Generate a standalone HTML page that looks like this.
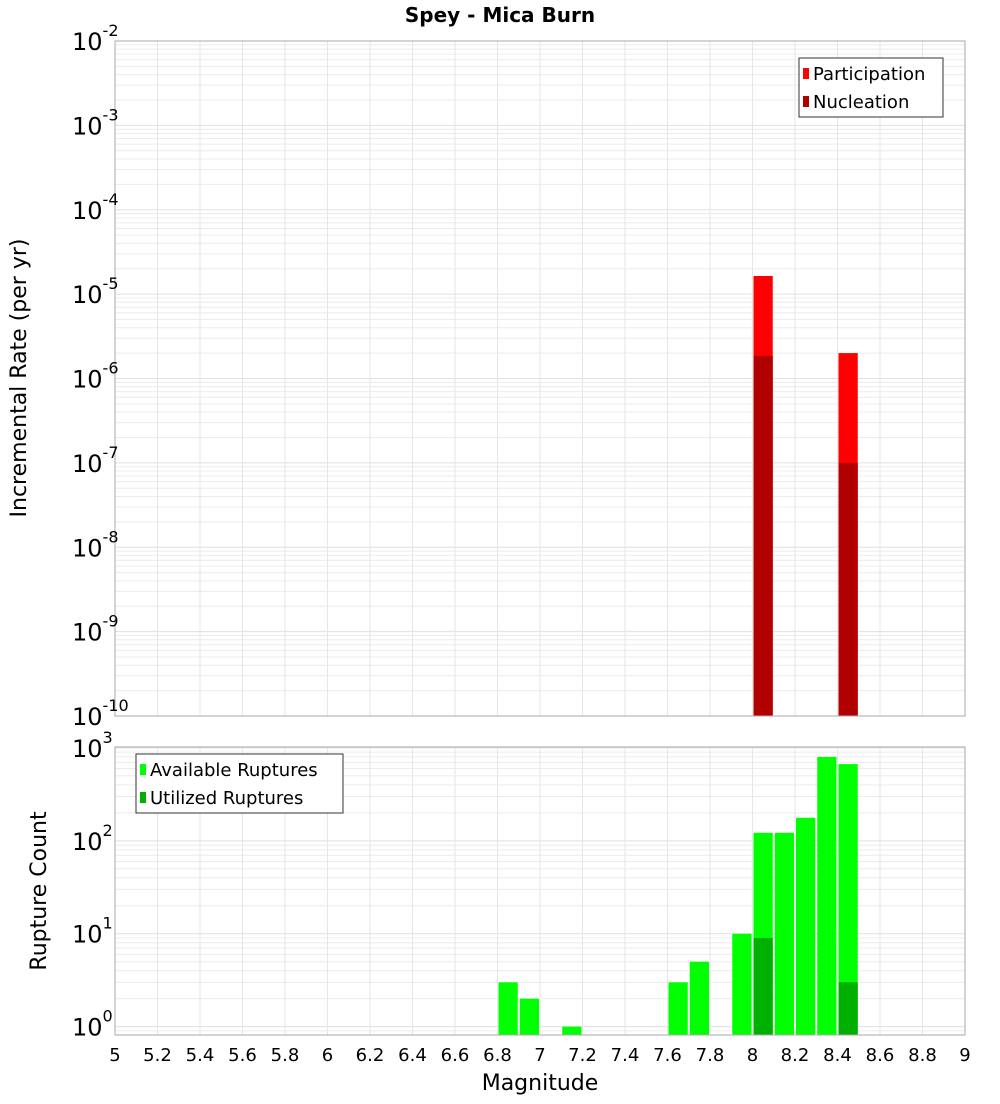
<!DOCTYPE html>
<html><head><meta charset="utf-8"><style>
body{margin:0;background:#fff;width:1000px;height:1100px;overflow:hidden;font-family:"DejaVu Sans","Liberation Sans",sans-serif}
svg text{font-family:"DejaVu Sans","Liberation Sans",sans-serif}
</style></head><body>
<svg id="chart" width="1000" height="1100" xmlns="http://www.w3.org/2000/svg">
<text x="500" y="22" text-anchor="middle" font-size="20" font-weight="bold">Spey - Mica Burn</text>
<text transform="translate(26,378) rotate(-90)" text-anchor="middle" font-size="22">Incremental Rate (per yr)</text>
<text transform="translate(46,891) rotate(-90)" text-anchor="middle" font-size="22">Rupture Count</text>
<text x="540" y="1090" text-anchor="middle" font-size="22">Magnitude</text>
<g id="g"></g>
</svg>
<script>
const xTicks=[5,5.2,5.4,5.6,5.8,6,6.2,6.4,6.6,6.8,7,7.2,7.4,7.6,7.8,8,8.2,8.4,8.6,8.8,9];
const rateMags=[8.05,8.45];
const participation=[1.64e-5,2.0e-6];
const nucleation=[1.85e-6,1.0e-7];
const countMags=[6.85,6.95,7.15,7.65,7.75,7.95,8.05,8.15,8.25,8.35,8.45];
const available=[3,2,1,3,5,10,122,122,177,800,670];
const utilizedMags=[8.05,8.45];
const utilized=[9,3];
const topExps=[-2,-3,-4,-5,-6,-7,-8,-9,-10];
const botExps=[3,2,1,0];

const NS="http://www.w3.org/2000/svg";
const g=document.getElementById('g');
function el(t,a,txt){const e=document.createElementNS(NS,t);for(const k in a)e.setAttribute(k,a[k]);if(txt!==undefined)e.textContent=txt;g.appendChild(e);return e;}
const X0=115,X1=965;
const x=m=>X0+(m-5)/4*(X1-X0);
const T0=41,T1=716;
const yTop=v=>T0+(-2-Math.log10(v))*(T1-T0)/8;
const B0=747,B1=1035,BL0=3.01,BL1=-0.09;
const yBot=v=>B0+(BL0-Math.log10(v))*(B1-B0)/(BL0-BL1);
const bw=(x(5.1)-x(5));

function grid(y0,y1,lmin,lmax,yf,name){
  for(let e=Math.floor(lmin);e<=Math.ceil(lmax);e++)for(let k=1;k<10;k++){
    const v=k*Math.pow(10,e);const l=Math.log10(v);if(l<lmin||l>lmax)continue;
    const y=yf(v);const ln=el('line',{x1:X0,x2:X1,y1:y,y2:y,stroke:k==1?'#e0e0e0':'#ececec','stroke-width':1});
    
  }
  xTicks.forEach(t=>{const ln=el('line',{x1:x(t),x2:x(t),y1:y0,y2:y1,stroke:'#e6e6e6'});
    });
}
grid(T0,T1,-10,-2,yTop,'top');
grid(B0,B1,BL1,BL0,yBot,'bottom');

// top bars
rateMags.forEach((m,i)=>{
  const r=el('rect',{x:x(m)-bw/2+1,y:yTop(participation[i]),width:bw-2,height:T1-yTop(participation[i]),fill:'#ff0000'});
  
  const n=el('rect',{x:x(m)-bw/2+1,y:yTop(nucleation[i]),width:bw-2,height:T1-yTop(nucleation[i]),fill:'#b00000'});
  
});
// bottom bars
countMags.forEach((m,i)=>{
  const r=el('rect',{x:x(m)-bw/2+1,y:yBot(available[i]),width:bw-2,height:B1-yBot(available[i]),fill:'#00ff00'});
  
});
utilizedMags.forEach((m,i)=>{
  const r=el('rect',{x:x(m)-bw/2+1,y:yBot(utilized[i]),width:bw-2,height:B1-yBot(utilized[i]),fill:'#00b000'});
  
});
// frames
let f=el('rect',{x:X0,y:T0,width:X1-X0,height:T1-T0,fill:'none',stroke:'#aaa'});

f=el('rect',{x:X0,y:B0,width:X1-X0,height:B1-B0,fill:'none',stroke:'#aaa'});

// y tick labels
function expLabel(xr,y,e,name){
  const t=el('text',{x:xr,y:y+9,'font-size':24,'text-anchor':'start'});
  
  const a=document.createElementNS(NS,'tspan');a.textContent='10';t.appendChild(a);
  const b=document.createElementNS(NS,'tspan');b.setAttribute('dy','-14');b.setAttribute('font-size','16');b.textContent=String(e);t.appendChild(b);
}
topExps.forEach(e=>expLabel(72,yTop(Math.pow(10,e)),e,'top-y-tick-label'));
botExps.forEach(e=>expLabel(72,yBot(Math.pow(10,e)),e,'bottom-y-tick-label'));
xTicks.forEach(t=>{const l=el('text',{x:x(t),y:1061,'font-size':18,'text-anchor':'middle'},String(t));
  });
// legends
function legend(x0,y0,w,items,name){
  const b=el('rect',{x:x0,y:y0,width:w,height:59,fill:'#fff',stroke:'#333'});
  
  items.forEach((it,i)=>{
    const s=el('rect',{x:x0+4,y:y0+10+i*28,width:6,height:11,fill:it[1]});
    
    const t=el('text',{x:x0+14,y:y0+22+i*28,'font-size':18},it[0]);
    
  });
}
legend(799,58,144,[['Participation','#ff0000'],['Nucleation','#b00000']],'top-legend');
legend(136,754,207,[['Available Ruptures','#00ff00'],['Utilized Ruptures','#00b000']],'bottom-legend');
</script>
</body></html>
